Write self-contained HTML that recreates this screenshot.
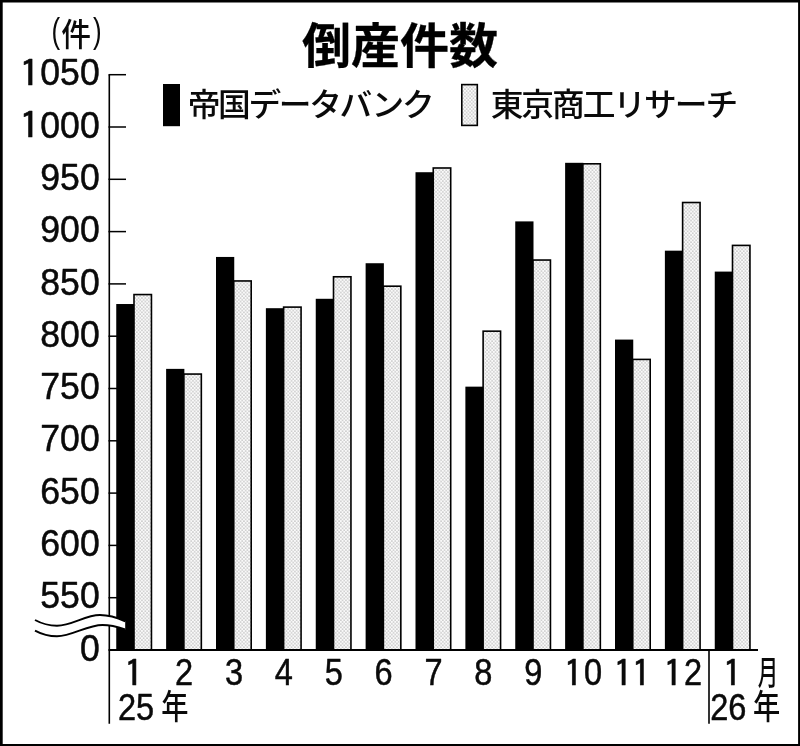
<!DOCTYPE html>
<html lang="ja"><head><meta charset="utf-8"><title>倒産件数</title>
<style>html,body{margin:0;padding:0;background:#fff}body{width:800px;height:746px;overflow:hidden}svg{display:block}.n{font-family:"Liberation Sans","Noto Sans CJK JP",sans-serif;fill:#0a0a0a;stroke:#0a0a0a;stroke-width:0.5px;stroke-linejoin:round}.one{font-family:IPAGothic,"Liberation Sans",sans-serif}.j{font-family:"Liberation Sans","Noto Sans CJK JP",sans-serif;fill:#0a0a0a;font-weight:500}.t{font-family:"Liberation Sans","Noto Sans CJK JP",sans-serif;fill:#000;font-weight:700;stroke:#000;stroke-width:0.3px;stroke-linejoin:round}</style></head><body>
<svg width="800" height="746" viewBox="0 0 800 746">
<defs><pattern id="dots" width="3.4" height="3.6" patternUnits="userSpaceOnUse"><rect width="3.4" height="3.6" fill="#fafafa"/><circle cx="0.85" cy="0.9" r="0.55" fill="#606060"/><circle cx="2.55" cy="2.7" r="0.55" fill="#606060"/></pattern></defs>
<rect x="0" y="0" width="800" height="746" fill="#fff"/>
<path d="M0 0H800V746H0Z M2.7 2.5V743.9H798.1V2.5Z" fill="#000" fill-rule="evenodd"/>
<rect x="116.25" y="304.02" width="18.25" height="345.98" fill="#000"/>
<rect x="134.00" y="294.56" width="17.45" height="355.44" fill="url(#dots)" stroke="#000" stroke-width="1.6"/>
<rect x="166.12" y="368.87" width="18.25" height="281.13" fill="#000"/>
<rect x="183.88" y="374.06" width="17.45" height="275.94" fill="url(#dots)" stroke="#000" stroke-width="1.6"/>
<rect x="216.00" y="256.95" width="18.25" height="393.05" fill="#000"/>
<rect x="233.75" y="280.96" width="17.45" height="369.04" fill="url(#dots)" stroke="#000" stroke-width="1.6"/>
<rect x="265.88" y="308.20" width="18.25" height="341.80" fill="#000"/>
<rect x="283.62" y="307.11" width="17.45" height="342.89" fill="url(#dots)" stroke="#000" stroke-width="1.6"/>
<rect x="315.75" y="298.79" width="18.25" height="351.21" fill="#000"/>
<rect x="333.50" y="276.78" width="17.45" height="373.22" fill="url(#dots)" stroke="#000" stroke-width="1.6"/>
<rect x="365.62" y="263.23" width="18.25" height="386.77" fill="#000"/>
<rect x="383.38" y="286.19" width="17.45" height="363.81" fill="url(#dots)" stroke="#000" stroke-width="1.6"/>
<rect x="415.50" y="172.22" width="18.25" height="477.78" fill="#000"/>
<rect x="433.25" y="167.99" width="17.45" height="482.01" fill="url(#dots)" stroke="#000" stroke-width="1.6"/>
<rect x="465.38" y="386.65" width="18.25" height="263.35" fill="#000"/>
<rect x="483.12" y="331.17" width="17.45" height="318.83" fill="url(#dots)" stroke="#000" stroke-width="1.6"/>
<rect x="515.25" y="221.39" width="18.25" height="428.61" fill="#000"/>
<rect x="533.00" y="260.04" width="17.45" height="389.96" fill="url(#dots)" stroke="#000" stroke-width="1.6"/>
<rect x="565.12" y="162.81" width="18.25" height="487.19" fill="#000"/>
<rect x="582.88" y="163.81" width="17.45" height="486.19" fill="url(#dots)" stroke="#000" stroke-width="1.6"/>
<rect x="615.00" y="339.58" width="18.25" height="310.42" fill="#000"/>
<rect x="632.75" y="359.41" width="17.45" height="290.59" fill="url(#dots)" stroke="#000" stroke-width="1.6"/>
<rect x="664.88" y="250.67" width="18.25" height="399.33" fill="#000"/>
<rect x="682.62" y="202.51" width="17.45" height="447.49" fill="url(#dots)" stroke="#000" stroke-width="1.6"/>
<rect x="714.75" y="271.59" width="18.25" height="378.41" fill="#000"/>
<rect x="732.50" y="245.40" width="17.45" height="404.60" fill="url(#dots)" stroke="#000" stroke-width="1.6"/>
<path d="M109.3 74.7 V723.7" stroke="#000" stroke-width="1.6" fill="none"/>
<path d="M108.5 74.70 H126" stroke="#000" stroke-width="1.5" fill="none"/>
<path d="M108.5 127.00 H126" stroke="#000" stroke-width="1.5" fill="none"/>
<path d="M108.5 179.30 H126" stroke="#000" stroke-width="1.5" fill="none"/>
<path d="M108.5 231.60 H126" stroke="#000" stroke-width="1.5" fill="none"/>
<path d="M108.5 283.90 H126" stroke="#000" stroke-width="1.5" fill="none"/>
<path d="M108.5 336.20 H126" stroke="#000" stroke-width="1.5" fill="none"/>
<path d="M108.5 388.50 H126" stroke="#000" stroke-width="1.5" fill="none"/>
<path d="M108.5 440.80 H126" stroke="#000" stroke-width="1.5" fill="none"/>
<path d="M108.5 493.10 H126" stroke="#000" stroke-width="1.5" fill="none"/>
<path d="M108.5 545.40 H126" stroke="#000" stroke-width="1.5" fill="none"/>
<path d="M108.5 597.70 H126" stroke="#000" stroke-width="1.5" fill="none"/>
<path d="M108.5 650.0 H758" stroke="#000" stroke-width="1.8" fill="none"/>
<path d="M709 650.0 V723.7" stroke="#000" stroke-width="1.6" fill="none"/>
<path d="M35 620 C 42 623.8, 49.5 625.7, 57 625.7 C 72 625.7, 85 615, 100 615 C 109 615, 118 618, 125.2 621.3 L125.2 629.4 C 118 627, 110 625, 102.5 625 C 87 625, 72 636.3, 57 636.3 C 49.5 636.3, 42 634.4, 35 630.6 Z" fill="#fff" stroke="none"/>
<path d="M35 620 C 42 623.8, 49.5 625.7, 57 625.7 C 72 625.7, 85 615, 100 615 C 109 615, 118 618, 125.2 621.3" fill="none" stroke="#000" stroke-width="1.9"/>
<path d="M35 630.6 C 42 634.4, 49.5 636.3, 57 636.3 C 72 636.3, 87 625, 102.5 625 C 110 625, 118 627, 125.2 629.4" fill="none" stroke="#000" stroke-width="1.9"/>
<text class="n" transform="translate(99.70 85.30) scale(0.962 1)" font-size="37"><tspan class="one" font-size="35.59" x="-83.86" y="1.78" textLength="22.25" lengthAdjust="spacingAndGlyphs">1</tspan><tspan x="-61.74" y="0">050</tspan></text>
<text class="n" transform="translate(99.70 137.60) scale(0.962 1)" font-size="37"><tspan class="one" font-size="35.59" x="-83.86" y="1.78" textLength="22.25" lengthAdjust="spacingAndGlyphs">1</tspan><tspan x="-61.74" y="0">000</tspan></text>
<text class="n" transform="translate(99.70 189.90) scale(0.962 1)" font-size="37"><tspan x="-61.74" y="0">950</tspan></text>
<text class="n" transform="translate(99.70 242.20) scale(0.962 1)" font-size="37"><tspan x="-61.74" y="0">900</tspan></text>
<text class="n" transform="translate(99.70 294.50) scale(0.962 1)" font-size="37"><tspan x="-61.74" y="0">850</tspan></text>
<text class="n" transform="translate(99.70 346.80) scale(0.962 1)" font-size="37"><tspan x="-61.74" y="0">800</tspan></text>
<text class="n" transform="translate(99.70 399.10) scale(0.962 1)" font-size="37"><tspan x="-61.74" y="0">750</tspan></text>
<text class="n" transform="translate(99.70 451.40) scale(0.962 1)" font-size="37"><tspan x="-61.74" y="0">700</tspan></text>
<text class="n" transform="translate(99.70 503.70) scale(0.962 1)" font-size="37"><tspan x="-61.74" y="0">650</tspan></text>
<text class="n" transform="translate(99.70 556.00) scale(0.962 1)" font-size="37"><tspan x="-61.74" y="0">600</tspan></text>
<text class="n" transform="translate(99.70 608.30) scale(0.962 1)" font-size="37"><tspan x="-61.74" y="0">550</tspan></text>
<text class="n" transform="translate(99.70 660.60) scale(0.962 1)" font-size="37"><tspan x="-20.58" y="0">0</tspan></text>
<text class="j" transform="translate(76.2 45.6) scale(0.93 1)" font-size="32" text-anchor="middle"><tspan x="-21.83" y="-2.8" font-size="36" font-weight="400" textLength="9.29" lengthAdjust="spacingAndGlyphs">(</tspan><tspan x="0" y="0">件</tspan><tspan x="22.69" y="-2.8" font-size="36" font-weight="400" textLength="9.29" lengthAdjust="spacingAndGlyphs">)</tspan></text>
<text class="t" transform="translate(400 62.5) scale(1.015 1)" font-size="48.3" text-anchor="middle">倒産件数</text>
<rect x="163" y="84" width="17" height="42.2" fill="#000"/>
<rect x="461.8" y="84.6" width="15.5" height="40.8" fill="url(#dots)" stroke="#000" stroke-width="1.6"/>
<text class="j" transform="translate(187.75 115.8) scale(1.04 1)" font-size="31.5" style="letter-spacing:-2.3px">帝国データバンク</text>
<text class="j" transform="translate(490.7 116.2) scale(1.04 1)" font-size="31.5" style="letter-spacing:-2.0px">東京商工リサーチ</text>
<text class="n" transform="translate(134.25 684.80) scale(0.88 1)" font-size="37"><tspan class="one" font-size="35.59" x="-11.59" y="1.78" textLength="22.25" lengthAdjust="spacingAndGlyphs">1</tspan></text>
<text class="n" transform="translate(184.12 684.80) scale(0.88 1)" font-size="37"><tspan x="-10.29" y="0">2</tspan></text>
<text class="n" transform="translate(234.00 684.80) scale(0.88 1)" font-size="37"><tspan x="-10.29" y="0">3</tspan></text>
<text class="n" transform="translate(283.88 684.80) scale(0.88 1)" font-size="37"><tspan x="-10.29" y="0">4</tspan></text>
<text class="n" transform="translate(333.75 684.80) scale(0.88 1)" font-size="37"><tspan x="-10.29" y="0">5</tspan></text>
<text class="n" transform="translate(383.62 684.80) scale(0.88 1)" font-size="37"><tspan x="-10.29" y="0">6</tspan></text>
<text class="n" transform="translate(433.50 684.80) scale(0.88 1)" font-size="37"><tspan x="-10.29" y="0">7</tspan></text>
<text class="n" transform="translate(483.38 684.80) scale(0.88 1)" font-size="37"><tspan x="-10.29" y="0">8</tspan></text>
<text class="n" transform="translate(533.25 684.80) scale(0.88 1)" font-size="37"><tspan x="-10.29" y="0">9</tspan></text>
<text class="n" transform="translate(584.12 684.80) scale(0.88 1)" font-size="37"><tspan class="one" font-size="35.59" x="-23.47" y="1.78" textLength="22.25" lengthAdjust="spacingAndGlyphs">1</tspan><tspan x="0.00" y="0">0</tspan></text>
<text class="n" transform="translate(634.00 684.80) scale(0.88 1)" font-size="37"><tspan class="one" font-size="35.59" x="-23.47" y="1.78" textLength="22.25" lengthAdjust="spacingAndGlyphs">1</tspan><tspan class="one" font-size="35.59" x="-2.89" y="1.78" textLength="22.25" lengthAdjust="spacingAndGlyphs">1</tspan></text>
<text class="n" transform="translate(683.88 684.80) scale(0.88 1)" font-size="37"><tspan class="one" font-size="35.59" x="-23.47" y="1.78" textLength="22.25" lengthAdjust="spacingAndGlyphs">1</tspan><tspan x="0.00" y="0">2</tspan></text>
<text class="n" transform="translate(732.75 684.80) scale(0.88 1)" font-size="37"><tspan class="one" font-size="35.59" x="-11.59" y="1.78" textLength="22.25" lengthAdjust="spacingAndGlyphs">1</tspan></text>
<text class="n" transform="translate(136.00 719.60) scale(0.88 1)" font-size="37"><tspan x="-20.58" y="0">25</tspan></text>
<text class="j" transform="translate(174.9 718.6) scale(0.805 1)" font-size="33.8" text-anchor="middle">年</text>
<text class="n" transform="translate(728.30 719.60) scale(0.88 1)" font-size="37"><tspan x="-20.58" y="0">26</tspan></text>
<text class="j" transform="translate(766.7 719.2) scale(0.805 1)" font-size="33.8" text-anchor="middle">年</text>
<text class="j" transform="translate(767.9 685.4) scale(0.6 1)" font-size="34" text-anchor="middle">月</text>
</svg></body></html>
